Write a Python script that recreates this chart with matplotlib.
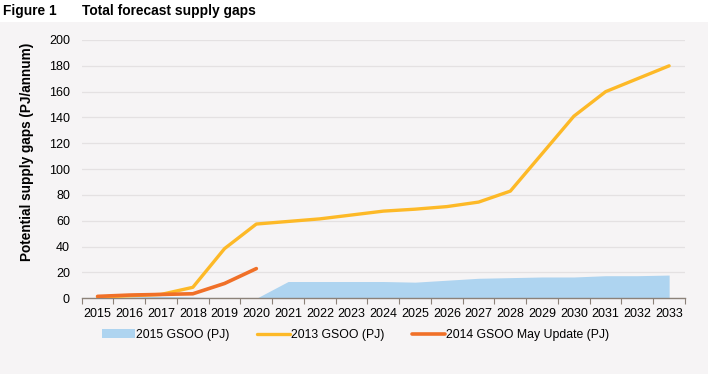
import numpy as np
import matplotlib.pyplot as plt

plt.rcParams['font.family'] = ['Liberation Sans', 'DejaVu Sans']

# ----------------------------
# data
# ----------------------------
years = [str(y) for y in range(2015, 2034)]
gsoo_2015 = [0.5, 1, 1.5, 1, 0, 0, 13, 13, 13, 13, 12.5, 14, 15.5, 16, 16.5, 16.5, 17.5, 17.5, 18]
gsoo_2013 = [1, 2, 3, 8.5, 38.5, 57.5, 59.5, 61.5, 64.5, 67.5, 69, 71, 74.5, 83, 112, 141, 160, 170, 180]
gsoo_2014 = [1.5, 2.5, 3, 3.5, 11.5, 23]
yticks = list(range(0, 201, 20))

bg = '#f6f4f5'
c_blue = '#aed4f0'
c_yellow = '#fdb927'
c_orange = '#f07028'

fig = plt.figure(figsize=(7.13, 3.74), dpi=100)
fig.patch.set_facecolor('white')
# grey panel behind the chart
fig.patches.append(plt.Rectangle((0, 0), 708 / 713, 1 - 22 / 374, transform=fig.transFigure,
                                 facecolor=bg, edgecolor='none', zorder=-10))

ax = fig.add_axes([81.7 / 713, 1 - 298.3 / 374, (685 - 81.7) / 713, (298.3 - 40) / 374])
ax.set_facecolor(bg)

x = np.arange(len(years))
ax.fill_between(x, gsoo_2015, color=c_blue, lw=0, label='2015 GSOO (PJ)', zorder=2)
ax.plot(x, gsoo_2013, color=c_yellow, lw=2.4, label='2013 GSOO (PJ)', zorder=3,
        solid_capstyle='round')
ax.plot(x[:len(gsoo_2014)], gsoo_2014, color=c_orange, lw=2.6,
        label='2014 GSOO May Update (PJ)', zorder=4, solid_capstyle='round')

ax.set_xlim(-0.5, len(years) - 0.5)
ax.set_ylim(0, 200)
ax.set_yticks(yticks)
ax.grid(axis='y', color='#e4e1e2', lw=0.9)
ax.set_axisbelow(True)

ax.set_xticks(np.arange(-0.5, len(years)), labels=[''] * (len(years) + 1))
ax.set_xticks(x, labels=years, minor=True)
ax.tick_params(axis='x', which='major', length=4, color='#8c8279', direction='out')
ax.tick_params(axis='x', which='minor', length=0, labelsize=9, pad=7)
ax.tick_params(axis='y', length=0, labelsize=9, pad=8.5)

for s in ['top', 'right', 'left']:
    ax.spines[s].set_visible(False)
ax.spines['bottom'].set_color('#8c8279')
ax.spines['bottom'].set_linewidth(1.0)

ax.set_ylabel('Potential supply gaps (PJ/annum)', fontsize=9.8, fontweight='bold')
# label sits higher than the axes centre in the original
ax.yaxis.set_label_coords(-48 / 603, (298.3 - 152) / 258.3)

fig.text(3 / 713, 1 - 11 / 374, 'Figure 1', fontsize=9.9, fontweight='bold', va='center')
fig.text(82 / 713, 1 - 11 / 374, 'Total forecast supply gaps', fontsize=9.9, fontweight='bold',
         va='center')

fig.legend(loc='center left', bbox_to_anchor=(91 / 713, 1 - 335 / 374), ncol=3, frameon=False,
           fontsize=8.8, handlelength=2.7, handletextpad=0.1, columnspacing=2.25)

plt.savefig('out.png', dpi=100, facecolor=fig.get_facecolor())
